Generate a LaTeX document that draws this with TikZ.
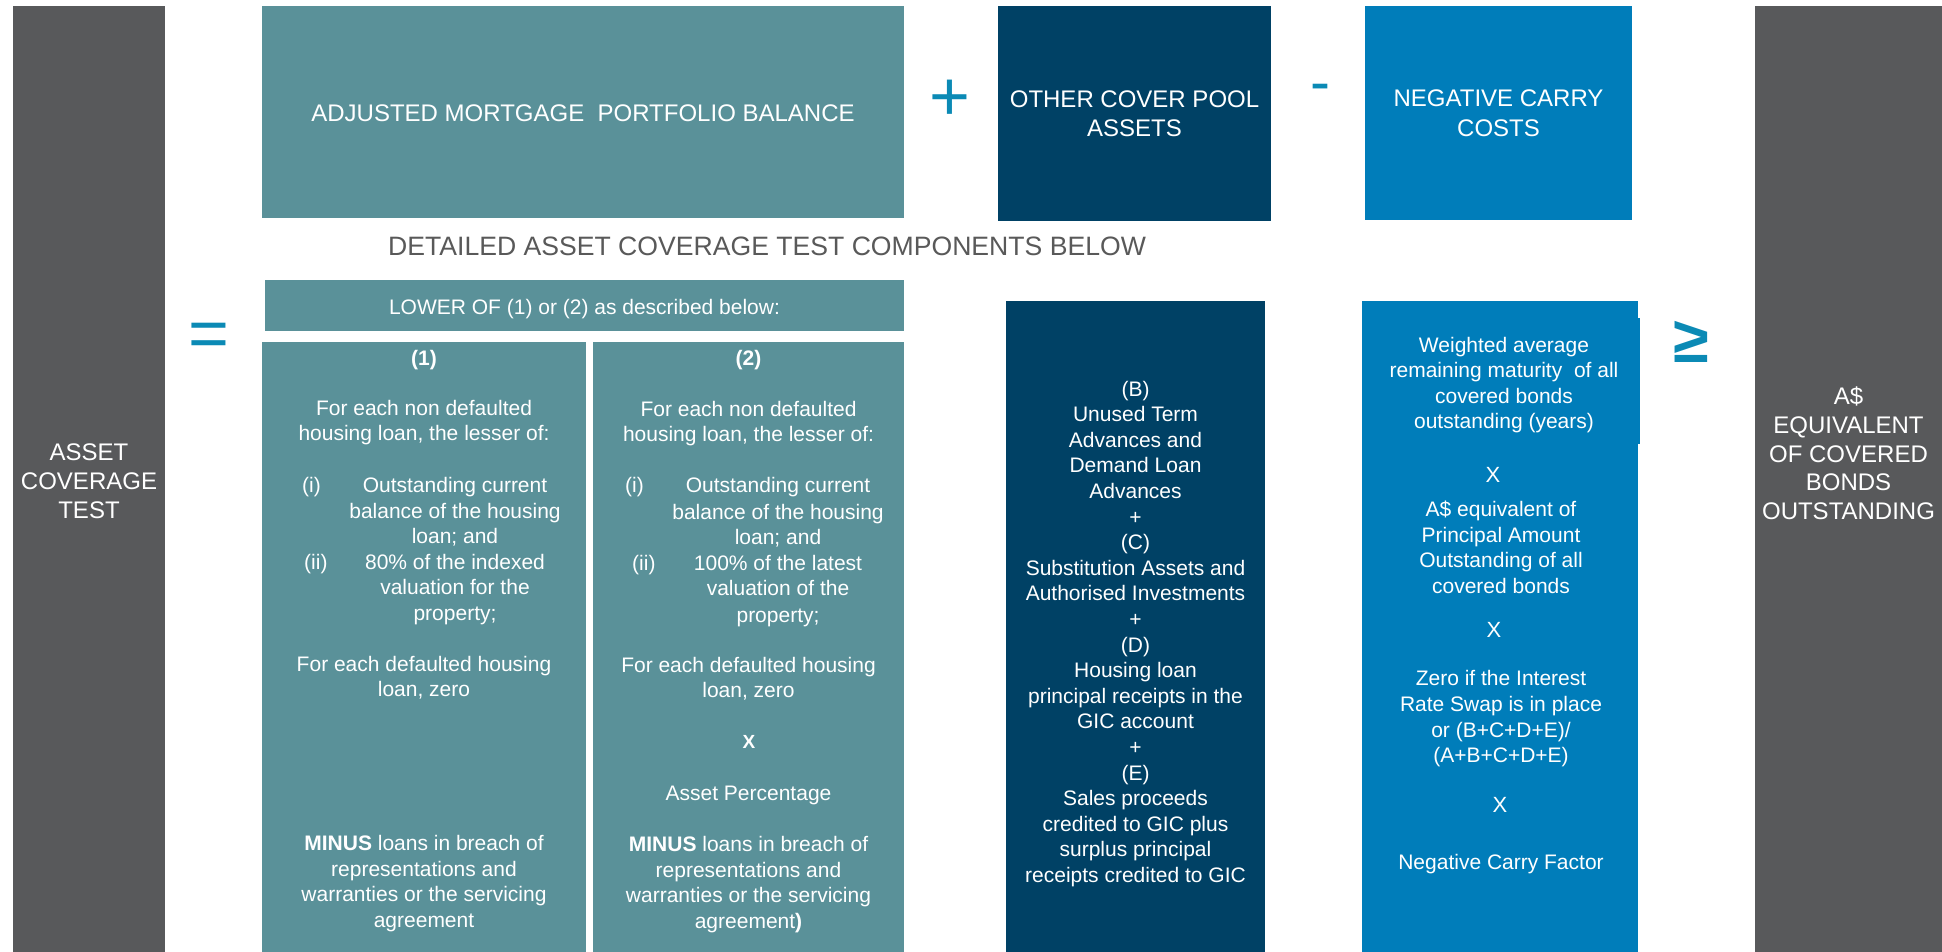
\documentclass[tikz,border=0pt]{standalone}
\usepackage{fontspec}
\setmainfont{Liberation Sans}
\definecolor{cgray}{HTML}{58595B}
\definecolor{cteal}{HTML}{5A9199}
\definecolor{cnavy}{HTML}{004165}
\definecolor{cblue}{HTML}{007DBA}
\definecolor{cop}{HTML}{0B8AB5}
\definecolor{ctxt}{HTML}{595959}
\tikzset{
  panel/.style={draw=none, inner sep=0pt, outer sep=0pt},
  body/.style={text=white, inner sep=0pt, anchor=base, font=\fontsize{21}{26}\selectfont},
  head/.style={text=white, inner sep=0pt, anchor=base, font=\fontsize{24}{29}\selectfont},
  opsign/.style={text=cop, inner sep=0pt, anchor=center},
  lbl/.style={text=white, inner sep=0pt, anchor=base west, font=\fontsize{21}{26}\selectfont},
}
\begin{document}
\begin{tikzpicture}[x=1pt, y=-1pt]
\useasboundingbox (0,0) rectangle (1942,952);
\fill[white] (0,0) rectangle (1942,952);

% panels
\node[panel, fill=cgray, minimum width=152pt, minimum height=946pt] (gl) at (89,479) {};
\node[panel, fill=cteal, minimum width=642pt, minimum height=212pt] (ampb) at (583,112) {};
\node[panel, fill=cnavy, minimum width=273pt, minimum height=215pt] (ocpa) at (1134.5,113.5) {};
\node[panel, fill=cblue, minimum width=267pt, minimum height=214pt] (ncc) at (1498.5,113) {};
\node[panel, fill=cgray, minimum width=187pt, minimum height=946pt] (gr) at (1848.5,479) {};
\node[panel, fill=cteal, minimum width=639pt, minimum height=51pt] (lower) at (584.5,305.5) {};
\node[panel, fill=cteal, minimum width=324pt, minimum height=610pt] (c1) at (424,647) {};
\node[panel, fill=cteal, minimum width=311pt, minimum height=610pt] (c2) at (748.5,647) {};
\node[panel, fill=cnavy, minimum width=259pt, minimum height=651pt] (bx) at (1135.5,626.5) {};
\node[panel, fill=cblue, minimum width=276pt, minimum height=651pt] (wx) at (1500,626.5) {};
\node[panel, fill=cblue, minimum width=278pt, minimum height=126pt] (wxa) at (1501,381) {};

% headers
\node[head] (t1) at (583,121.5) {ADJUSTED MORTGAGE\ \ PORTFOLIO BALANCE};
\node[head] (t2) at (1134.5,108) {OTHER COVER POOL};
\node[head] (t3) at (1134.5,136.5) {ASSETS};
\node[head] (t4) at (1498.5,107) {NEGATIVE CARRY};
\node[head] (t5) at (1498.5,136.5) {COSTS};
\node[head, text=ctxt, font=\fontsize{26.6}{30}\selectfont] (t6) at (767,255.5) {DETAILED ASSET COVERAGE TEST COMPONENTS BELOW};
\node[body] (t7) at (584.5,314) {LOWER OF (1) or (2) as described below:};

% side bars
\foreach \yy/\s [count=\i] in {460/ASSET, 489/COVERAGE, 518/TEST}
  \node[head] (la\i) at (89,\yy) {\s};
\foreach \yy/\s [count=\i] in {404/A\$, 433/EQUIVALENT, 462/OF COVERED, 490/BONDS, 519/OUTSTANDING}
  \node[head] (ra\i) at (1848.5,\yy) {\s};

% column (1)
\foreach \yy/\s [count=\i] in {365/{\textbf{(1)}}, 415/{For each non defaulted}, 440/{housing loan, the lesser of:},
   671/{For each defaulted housing}, 696/{loan, zero}, 850/{\textbf{MINUS} loans in breach of},
   876/{representations and}, 901/{warranties or the servicing}, 927/{agreement}}
  \node[body] (ca\i) at (424,\yy) {\s};
\foreach \yy/\s [count=\i] in {492/{Outstanding current}, 518/{balance of the housing}, 543/{loan; and},
   569/{80\% of the indexed}, 594/{valuation for the}, 620/{property;}}
  \node[body] (cb\i) at (455,\yy) {\s};
\node[lbl] (cl1) at (302,492) {(i)};
\node[lbl] (cl2) at (304,569) {(ii)};

% column (2)
\foreach \yy/\s [count=\i] in {365/{\textbf{(2)}}, 416/{For each non defaulted}, 441/{housing loan, the lesser of:},
   672/{For each defaulted housing}, 697/{loan, zero}, 800/{Asset Percentage}, 851/{\textbf{MINUS} loans in breach of},
   877/{representations and}, 902/{warranties or the servicing}, 928/{agreement\textbf{)}}}
  \node[body] (da\i) at (748.5,\yy) {\s};
\foreach \yy/\s [count=\i] in {492/{Outstanding current}, 519/{balance of the housing}, 544/{loan; and},
   570/{100\% of the latest}, 595/{valuation of the}, 622/{property;}}
  \node[body] (db\i) at (778,\yy) {\s};
\node[lbl] (dl1) at (625,492) {(i)};
\node[lbl] (dl2) at (632,570) {(ii)};
\node[body, font=\bfseries\fontsize{19}{22}\selectfont] (dx) at (749,748) {X};

% other cover pool detail
\foreach \s [count=\i from 0] in {(B), Unused Term, Advances and, Demand Loan, Advances, +, (C),
   Substitution Assets and, Authorised Investments, +, (D), Housing loan, principal receipts in the,
   GIC account, +, (E), Sales proceeds, credited to GIC plus, surplus principal, receipts credited to GIC}
  \node[body] (ba\i) at (1135.5,396+25.6*\i) {\s};

% negative carry detail
\foreach \yy/\s [count=\i] in {352/{Weighted average}, 377.5/{remaining maturity\ \ of all}, 403/{covered bonds}, 428/{outstanding (years)}}
  \node[body] (wa\i) at (1504,\yy) {\s};
\foreach \yy/\s [count=\i] in {516/{A\$ equivalent of}, 542/{Principal Amount}, 567/{Outstanding of all}, 593/{covered bonds},
   685/{Zero if the Interest}, 711/{Rate Swap is in place}, 737/{or (B+C+D+E)/}, 762/{(A+B+C+D+E)}, 869/{Negative Carry Factor}}
  \node[body] (wb\i) at (1501,\yy) {\s};
\node[body, font=\fontsize{22}{26}\selectfont] (wx1) at (1493,482) {X};
\node[body, font=\fontsize{22}{26}\selectfont] (wx2) at (1494,637) {X};
\node[body, font=\fontsize{22}{26}\selectfont] (wx3) at (1500,812) {X};

% operators
\node[opsign, font=\fontsize{70}{70}\selectfont] (plus) at (949.5,100.5) {+};
\node[opsign, font=\fontsize{60}{60}\selectfont] (minus) at (1320,93) {-};
\node[opsign, font=\fontsize{70}{70}\selectfont] (eq) at (208.5,340) {=};
\node[opsign, font=\bfseries\fontsize{65}{65}\selectfont] (geq) at (1691,342) {≥};
\end{tikzpicture}
\end{document}
